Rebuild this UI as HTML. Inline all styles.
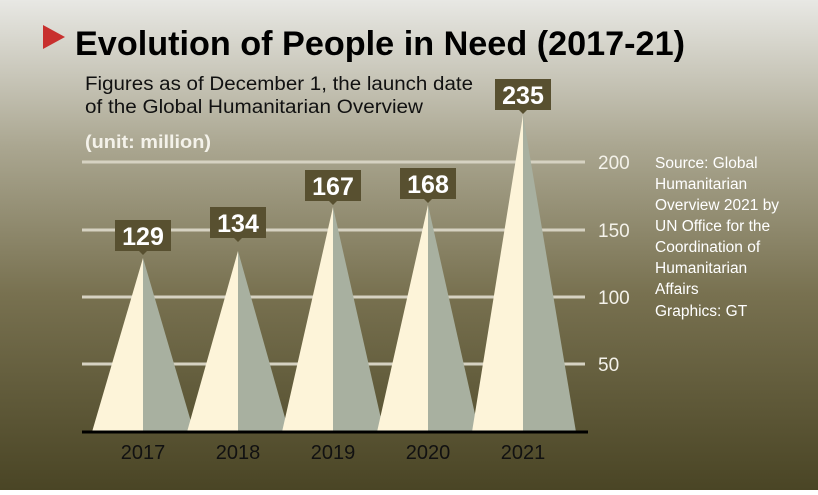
<!DOCTYPE html>
<html><head><meta charset="utf-8"><style>
html,body{margin:0;padding:0}
body{width:818px;height:490px;overflow:hidden;font-family:"Liberation Sans",sans-serif}
</style></head><body>
<svg width="818" height="490" xmlns="http://www.w3.org/2000/svg" font-family="Liberation Sans, sans-serif">
<defs><linearGradient id="bg" x1="0" y1="0" x2="0" y2="1">
<stop offset="0" stop-color="#e8e8e4"/><stop offset="0.3" stop-color="#aaa690"/>
<stop offset="0.6" stop-color="#787150"/><stop offset="1" stop-color="#4a4525"/></linearGradient></defs>
<rect width="818" height="490" fill="url(#bg)"/>
<polygon points="43,25 65,37 43,49" fill="#c8302e"/>
<text x="75" y="55" font-size="34" font-weight="bold" fill="#000" textLength="610" lengthAdjust="spacingAndGlyphs">Evolution of People in Need (2017-21)</text>
<text x="85" y="90" font-size="19" fill="#111" textLength="388" lengthAdjust="spacingAndGlyphs">Figures as of December 1, the launch date</text>
<text x="85" y="113" font-size="19" fill="#111" textLength="338" lengthAdjust="spacingAndGlyphs">of the Global Humanitarian Overview</text>
<text x="85" y="148" font-size="18" font-weight="bold" fill="#f4f2ea" textLength="126" lengthAdjust="spacingAndGlyphs">(unit: million)</text>
<g stroke="#d6d2c2" stroke-width="3">
<line x1="82" y1="162" x2="585" y2="162"/><line x1="82" y1="230" x2="585" y2="230"/>
<line x1="82" y1="297" x2="585" y2="297"/><line x1="82" y1="364" x2="585" y2="364"/></g>
<g font-size="19" fill="#f4f2ea">
<text x="598" y="169">200</text><text x="598" y="237">150</text><text x="598" y="304">100</text><text x="598" y="371">50</text></g>
<g font-size="15.5" fill="#fff">
<text x="655" y="168">Source: Global</text><text x="655" y="189">Humanitarian</text>
<text x="655" y="210">Overview 2021 by</text><text x="655" y="231">UN Office for the</text>
<text x="655" y="252">Coordination of</text><text x="655" y="273">Humanitarian</text>
<text x="655" y="294">Affairs</text><text x="655" y="316">Graphics: GT</text></g>
<g id="tri">
<polygon points="92,432 143,258 143,432" fill="#fdf4d9"/><polygon points="143,258 194,432 143,432" fill="#a8b0a0"/>
<polygon points="187,432 238,251 238,432" fill="#fdf4d9"/><polygon points="238,251 289,432 238,432" fill="#a8b0a0"/>
<polygon points="282,432 333,207 333,432" fill="#fdf4d9"/><polygon points="333,207 384,432 333,432" fill="#a8b0a0"/>
<polygon points="377,432 428,205 428,432" fill="#fdf4d9"/><polygon points="428,205 479,432 428,432" fill="#a8b0a0"/>
<polygon points="472,432 523,115 523,432" fill="#fdf4d9"/><polygon points="523,115 576,432 523,432" fill="#a8b0a0"/>
</g>
<g fill="#585030">
<rect x="115" y="220" width="56" height="31"/><polygon points="139,251 147,251 143,255"/>
<rect x="210" y="207" width="56" height="31"/><polygon points="234,238 242,238 238,242"/>
<rect x="305" y="170" width="56" height="31"/><polygon points="329,201 337,201 333,205"/>
<rect x="400" y="168" width="56" height="31"/><polygon points="424,199 432,199 428,203"/>
<rect x="495" y="79" width="56" height="31"/><polygon points="519,110 527,110 523,114"/>
</g>
<g font-size="25" font-weight="bold" fill="#fff" text-anchor="middle">
<text x="143" y="245">129</text><text x="238" y="232">134</text><text x="333" y="195">167</text>
<text x="428" y="193">168</text><text x="523" y="104">235</text></g>
<line x1="82" y1="432" x2="588" y2="432" stroke="#000" stroke-width="3"/>
<g font-size="20" fill="#111" text-anchor="middle">
<text x="143" y="459">2017</text><text x="238" y="459">2018</text><text x="333" y="459">2019</text>
<text x="428" y="459">2020</text><text x="523" y="459">2021</text></g>
</svg>
</body></html>
